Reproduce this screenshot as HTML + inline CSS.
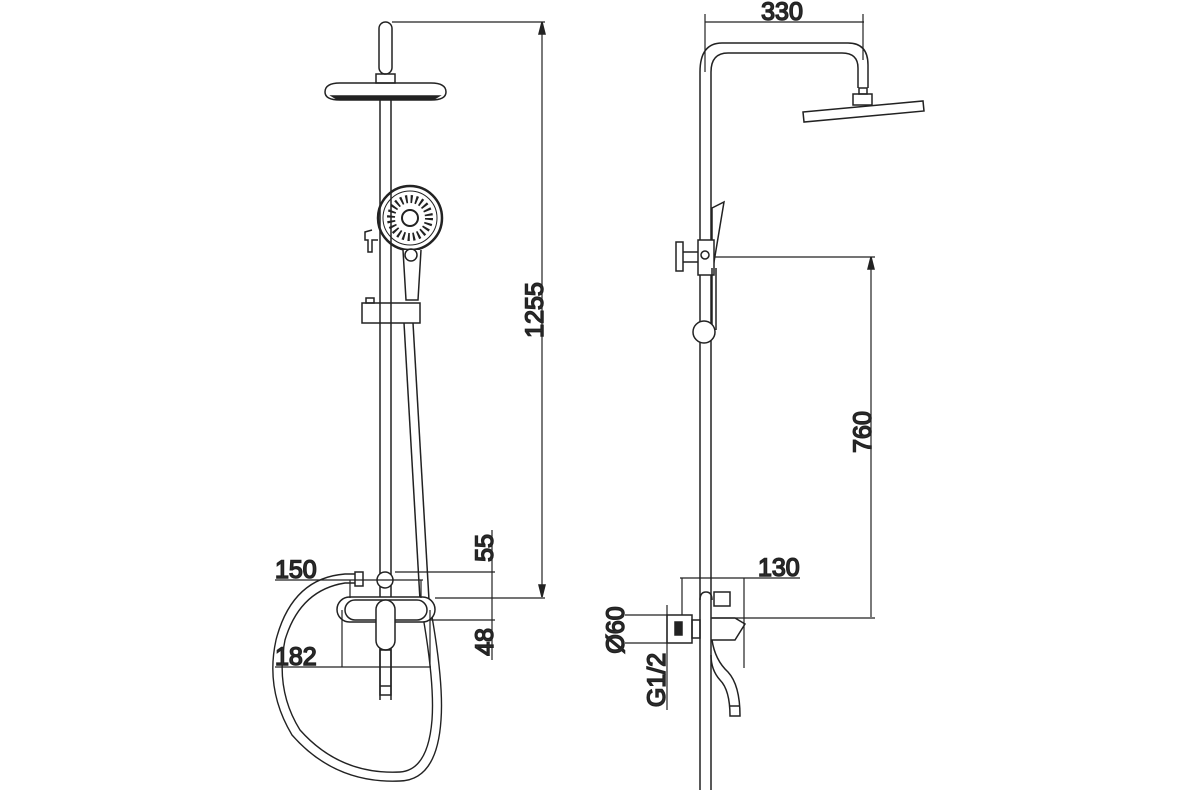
<!DOCTYPE html>
<html><head><meta charset="utf-8"><style>
html,body{margin:0;padding:0;background:#fff;width:1200px;height:800px;overflow:hidden}
svg{display:block}
text{font-family:"Liberation Sans",sans-serif;fill:#333;font-size:25px}
</style></head><body>
<svg width="1200" height="800" viewBox="0 0 1200 800" fill="none" stroke="#222" stroke-width="1.5">
<!-- LEFT UNIT -->
<rect x="379" y="22" width="13" height="52" rx="6.5"/>
<rect x="376" y="74" width="19" height="9"/>
<path d="M325 92 Q325 83 340 83 L431 83 Q446 83 446 92 Q446 100 431 100 L340 100 Q325 100 325 92Z"/>
<path d="M332 96 L439 96 L434 99 L337 99Z" fill="#222"/>
<line x1="380" y1="100" x2="380" y2="700"/><line x1="391" y1="100" x2="391" y2="700"/>
<!-- hand shower -->
<circle cx="410" cy="218" r="32" stroke-width="2.5"/>
<circle cx="410" cy="218" r="27" stroke-width="1"/>
<circle cx="410" cy="218" r="19" stroke="#222" stroke-width="8" stroke-dasharray="2 3"/>
<circle cx="410" cy="218" r="8" fill="#fff" stroke-width="2"/>
<path d="M403 250 L406 300 L418 300 L421 250" fill="#fff"/>
<circle cx="411" cy="255" r="6"/>
<path d="M372 230 L365 232 L365 240 L368 240 L368 252 L372 252 L372 240 L378 240" />
<rect x="362" y="303" width="58" height="20"/>
<rect x="366" y="298" width="8" height="5"/>
<!-- hose -->
<line x1="404" y1="323" x2="420" y2="600"/><line x1="413" y1="323" x2="429" y2="600"/>
<path d="M420 600 Q435 680 432 720 Q428 770 400 772 Q340 775 300 730 Q275 690 285 640 Q300 590 345 583 L355 583" stroke-width="1.4"/>
<path d="M429 600 Q444 680 441 720 Q437 780 400 781 Q335 784 292 735 Q265 690 276 640 Q292 578 345 574 L355 574" stroke-width="1.4"/>
<!-- mixer -->
<circle cx="385" cy="580" r="8" fill="#fff"/>
<rect x="355" y="572" width="8" height="14" fill="#fff"/>
<rect x="337" y="597" width="98" height="25" rx="12.5" fill="#fff"/>
<rect x="345" y="600" width="82" height="20" rx="10"/>
<rect x="376" y="600" width="19" height="50" rx="9.5" fill="#fff"/>
<rect x="380" y="650" width="11" height="45"/>
<line x1="380" y1="686" x2="391" y2="686"/>
<!-- dims left -->
<line x1="392" y1="22" x2="545" y2="22" stroke-width="1.2"/>
<line x1="542" y1="22" x2="542" y2="597" stroke-width="1.2"/>
<path d="M542 22 L539 34 L545 34Z" fill="#222"/>
<path d="M542 597 L539 585 L545 585Z" fill="#222"/>
<text transform="translate(543,310) rotate(-90)" text-anchor="middle">1255</text>
<line x1="395" y1="572" x2="495" y2="572" stroke-width="1.2"/>
<line x1="435" y1="598" x2="545" y2="598" stroke-width="1.2"/>
<line x1="430" y1="620" x2="495" y2="620" stroke-width="1.2"/>
<line x1="492" y1="530" x2="492" y2="660" stroke-width="1.2"/>
<text transform="translate(493,548) rotate(-90)" text-anchor="middle">55</text>
<text transform="translate(493,642) rotate(-90)" text-anchor="middle">48</text>
<line x1="275" y1="580" x2="423" y2="580" stroke-width="1.2"/>
<line x1="350" y1="580" x2="350" y2="598" stroke-width="1.2"/>
<line x1="421" y1="580" x2="421" y2="598" stroke-width="1.2"/>
<text x="275" y="578">150</text>
<line x1="275" y1="667" x2="431" y2="667" stroke-width="1.2"/>
<line x1="342" y1="610" x2="342" y2="667" stroke-width="1.2"/>
<line x1="430" y1="610" x2="430" y2="667" stroke-width="1.2"/>
<text x="275" y="665">182</text>
<!-- RIGHT UNIT -->
<path d="M700 790 L700 72 Q700 43 722 43 L848 43 Q868 43 868 65 L868 88"/>
<path d="M711 790 L711 72 Q711 53 728 53 L842 53 Q858 53 858 68 L858 88"/>
<rect x="859" y="88" width="8" height="6"/>
<rect x="853" y="94" width="19" height="11"/>
<path d="M803 112 L923 101 L924 111 L804 122Z"/>
<line x1="705" y1="22" x2="864" y2="22" stroke-width="1.2"/>
<line x1="705" y1="14" x2="705" y2="72" stroke-width="1.2"/>
<line x1="863" y1="14" x2="863" y2="60" stroke-width="1.2"/>
<text x="782" y="20" text-anchor="middle">330</text>
<path d="M712 208 L724 202 L713 268 L712 268Z" fill="#fff"/>
<rect x="698" y="240" width="16" height="35" fill="#fff"/>
<rect x="676" y="242" width="7" height="29"/>
<line x1="683" y1="252" x2="698" y2="252"/><line x1="683" y1="262" x2="698" y2="262"/>
<circle cx="705" cy="255" r="4"/>
<line x1="712" y1="268" x2="712" y2="330"/><line x1="716" y1="268" x2="716" y2="330"/>
<circle cx="704" cy="332" r="11" fill="#fff"/>
<line x1="715" y1="257" x2="875" y2="257" stroke-width="1.2"/>
<line x1="871" y1="257" x2="871" y2="617" stroke-width="1.2"/>
<path d="M871 257 L868 269 L874 269Z" fill="#222"/>
<text transform="translate(871,432) rotate(-90)" text-anchor="middle">760</text>
<!-- bottom right -->
<path d="M700 600 Q700 592 706 592 Q712 592 712 600" />
<rect x="714" y="592" width="16" height="14"/>
<line x1="712" y1="618" x2="875" y2="618" stroke-width="1.2"/>
<line x1="680" y1="578" x2="800" y2="578" stroke-width="1.2"/>
<line x1="682" y1="578" x2="682" y2="615" stroke-width="1.2"/>
<line x1="744" y1="578" x2="744" y2="668" stroke-width="1.2"/>
<text x="758" y="576">130</text>
<rect x="667" y="615" width="25" height="28"/>
<rect x="675" y="622" width="7" height="13" fill="#222"/>
<rect x="692" y="620" width="8" height="18"/>
<line x1="625" y1="615" x2="667" y2="615" stroke-width="1.2"/>
<line x1="625" y1="643" x2="667" y2="643" stroke-width="1.2"/>
<line x1="667" y1="605" x2="667" y2="710" stroke-width="1.2"/>
<text transform="translate(624,630) rotate(-90)" text-anchor="middle">Ø60</text>
<text transform="translate(665,680) rotate(-90)" text-anchor="middle">G1/2</text>
<path d="M711 618 L735 618 L745 624 L735 640 L711 640"/>
<path d="M712 640 Q715 660 728 672 Q740 685 740 716 L730 716 Q730 690 720 680 Q711 670 711 655"/>
<line x1="730" y1="706" x2="740" y2="706"/>
</svg>
</body></html>
